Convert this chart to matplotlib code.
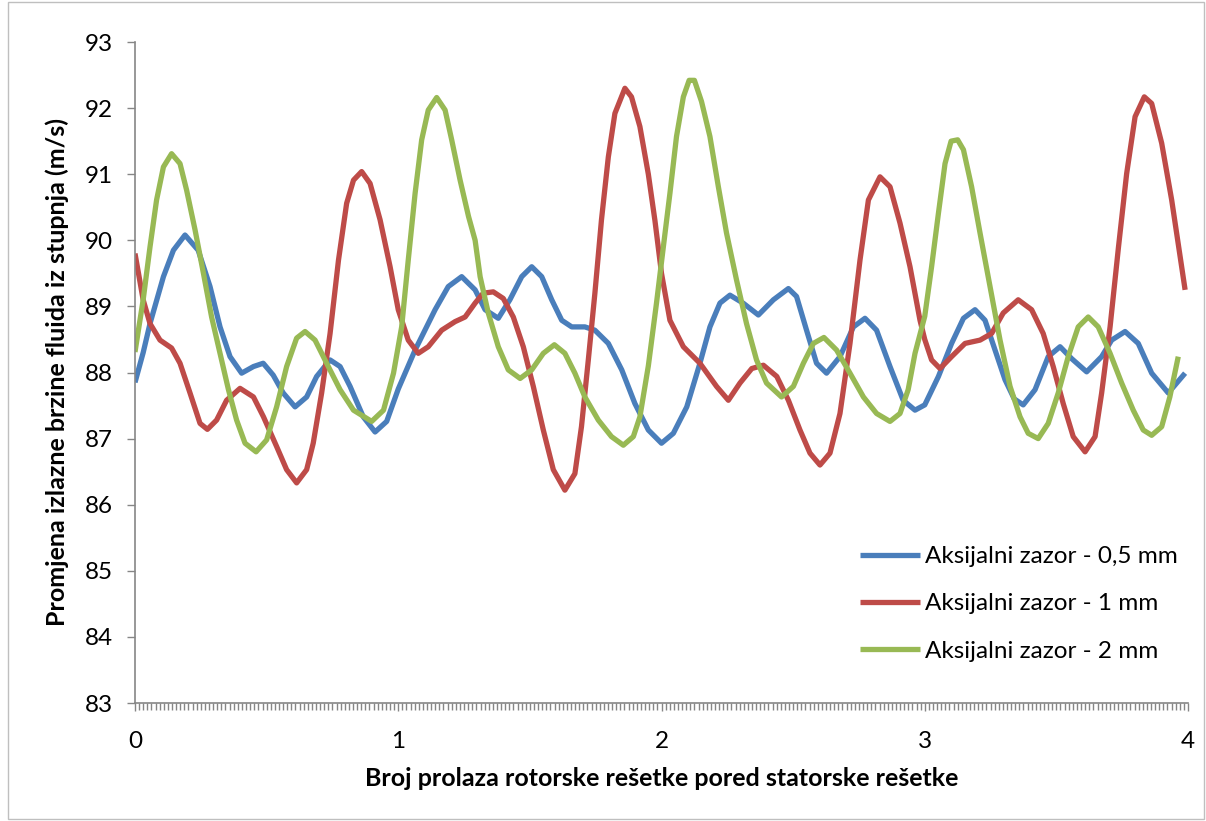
import matplotlib
matplotlib.use("Agg")
import matplotlib.pyplot as plt
from matplotlib.ticker import MultipleLocator

# Aksijalni zazor - 0,5 mm
blue_x = [0.0, 0.031, 0.057, 0.108, 0.146, 0.19, 0.24, 0.285, 0.323, 0.361, 0.405, 0.45, 0.487,
          0.525, 0.563, 0.608, 0.652, 0.69, 0.741, 0.779, 0.817, 0.867, 0.912, 0.956, 1.0, 1.064,
          1.14, 1.19, 1.241, 1.292, 1.33, 1.38, 1.424, 1.469, 1.507, 1.545, 1.583, 1.621, 1.659,
          1.709, 1.747, 1.798, 1.849, 1.899, 1.95, 2.0, 2.045, 2.096, 2.146, 2.184, 2.222, 2.26,
          2.31, 2.368, 2.425, 2.482, 2.513, 2.551, 2.589, 2.627, 2.678, 2.729, 2.773, 2.817, 2.868,
          2.918, 2.963, 3.0, 3.052, 3.102, 3.147, 3.191, 3.229, 3.267, 3.305, 3.34, 3.374, 3.419,
          3.469, 3.514, 3.558, 3.615, 3.672, 3.71, 3.761, 3.811, 3.862, 3.925, 3.989]
blue_y = [87.85, 88.30, 88.74, 89.45, 89.85, 90.08, 89.85, 89.30, 88.69, 88.24, 87.99, 88.09, 88.14,
          87.96, 87.69, 87.48, 87.63, 87.94, 88.19, 88.09, 87.79, 87.33, 87.10, 87.26, 87.75, 88.34,
          88.95, 89.30, 89.45, 89.25, 88.95, 88.82, 89.10, 89.45, 89.60, 89.45, 89.10, 88.79, 88.69,
          88.69, 88.64, 88.44, 88.04, 87.53, 87.13, 86.93, 87.08, 87.48, 88.14, 88.69, 89.05, 89.17,
          89.05, 88.87, 89.10, 89.27, 89.15, 88.64, 88.14, 87.99, 88.24, 88.69, 88.82, 88.64, 88.09,
          87.58, 87.43, 87.51, 87.94, 88.44, 88.82, 88.95, 88.79, 88.34, 87.89, 87.60, 87.51, 87.74,
          88.24, 88.39, 88.21, 88.01, 88.24, 88.49, 88.62, 88.44, 87.99, 87.69, 87.99]

# Aksijalni zazor - 1 mm
red_x = [0.0, 0.031, 0.057, 0.095, 0.139, 0.171, 0.209, 0.247, 0.275, 0.31, 0.348, 0.399, 0.45,
         0.488, 0.538, 0.576, 0.614, 0.652, 0.677, 0.709, 0.741, 0.773, 0.804, 0.83, 0.861, 0.893,
         0.931, 0.969, 1.0, 1.038, 1.076, 1.114, 1.165, 1.216, 1.254, 1.292, 1.323, 1.361, 1.399,
         1.437, 1.475, 1.513, 1.551, 1.589, 1.633, 1.671, 1.696, 1.722, 1.747, 1.772, 1.798, 1.823,
         1.861, 1.886, 1.918, 1.95, 1.975, 2.0, 2.032, 2.083, 2.146, 2.209, 2.254, 2.298, 2.343,
         2.387, 2.438, 2.482, 2.526, 2.564, 2.602, 2.64, 2.678, 2.716, 2.754, 2.786, 2.83, 2.868,
         2.906, 2.944, 2.982, 3.0, 3.026, 3.058, 3.102, 3.153, 3.21, 3.254, 3.298, 3.355, 3.406,
         3.45, 3.488, 3.526, 3.564, 3.609, 3.647, 3.672, 3.704, 3.736, 3.767, 3.799, 3.834, 3.862,
         3.9, 3.938, 3.989]
red_y = [89.80, 89.10, 88.74, 88.49, 88.37, 88.14, 87.69, 87.23, 87.14, 87.28, 87.58, 87.76, 87.63,
         87.33, 86.88, 86.53, 86.33, 86.53, 86.93, 87.69, 88.59, 89.70, 90.56, 90.91, 91.04, 90.86,
         90.31, 89.60, 88.95, 88.49, 88.29, 88.39, 88.64, 88.77, 88.84, 89.05, 89.20, 89.22, 89.12,
         88.84, 88.39, 87.79, 87.13, 86.53, 86.22, 86.47, 87.18, 88.19, 89.20, 90.31, 91.26, 91.92,
         92.30, 92.17, 91.72, 91.00, 90.30, 89.50, 88.79, 88.39, 88.14, 87.79, 87.58, 87.84, 88.06,
         88.11, 87.94, 87.58, 87.13, 86.78, 86.60, 86.78, 87.38, 88.44, 89.70, 90.61, 90.96, 90.81,
         90.26, 89.60, 88.79, 88.50, 88.19, 88.06, 88.24, 88.44, 88.49, 88.59, 88.90, 89.10, 88.95,
         88.59, 88.09, 87.53, 87.03, 86.80, 87.03, 87.69, 88.69, 89.90, 91.01, 91.87, 92.17, 92.07,
         91.47, 90.61, 89.25]

# Aksijalni zazor - 2 mm
green_x = [0.0, 0.031, 0.057, 0.082, 0.108, 0.139, 0.171, 0.196, 0.228, 0.26, 0.291, 0.323, 0.355,
           0.386, 0.418, 0.46, 0.5, 0.538, 0.576, 0.614, 0.646, 0.684, 0.728, 0.779, 0.83, 0.899,
           0.944, 0.982, 1.013, 1.038, 1.064, 1.089, 1.114, 1.146, 1.178, 1.203, 1.235, 1.267, 1.292,
           1.311, 1.342, 1.38, 1.418, 1.463, 1.507, 1.551, 1.593, 1.633, 1.671, 1.709, 1.76, 1.81,
           1.855, 1.893, 1.918, 1.95, 1.981, 2.007, 2.032, 2.057, 2.083, 2.105, 2.125, 2.152, 2.184,
           2.216, 2.247, 2.285, 2.323, 2.361, 2.399, 2.456, 2.501, 2.539, 2.577, 2.617, 2.665, 2.716,
           2.767, 2.817, 2.868, 2.906, 2.937, 2.963, 3.0, 3.026, 3.052, 3.077, 3.1, 3.125, 3.147,
           3.178, 3.21, 3.248, 3.286, 3.324, 3.362, 3.393, 3.431, 3.469, 3.507, 3.545, 3.583, 3.621,
           3.659, 3.704, 3.748, 3.792, 3.83, 3.862, 3.9, 3.931, 3.963]
green_y = [88.31, 89.10, 89.90, 90.61, 91.11, 91.31, 91.16, 90.76, 90.16, 89.50, 88.84, 88.29, 87.74,
           87.28, 86.93, 86.80, 86.98, 87.48, 88.09, 88.52, 88.62, 88.49, 88.14, 87.74, 87.43, 87.26,
           87.43, 87.99, 88.69, 89.70, 90.71, 91.52, 91.97, 92.16, 91.97, 91.52, 90.91, 90.36, 90.00,
           89.45, 88.90, 88.39, 88.04, 87.91, 88.04, 88.29, 88.42, 88.29, 87.99, 87.63, 87.28, 87.03,
           86.90, 87.03, 87.33, 88.10, 89.05, 89.90, 90.71, 91.57, 92.17, 92.42, 92.42, 92.10, 91.57,
           90.81, 90.11, 89.40, 88.74, 88.19, 87.84, 87.63, 87.79, 88.14, 88.44, 88.53, 88.34, 87.99,
           87.63, 87.38, 87.26, 87.38, 87.74, 88.29, 88.85, 89.60, 90.41, 91.16, 91.50, 91.52, 91.37,
           90.81, 90.11, 89.30, 88.49, 87.79, 87.33, 87.08, 87.00, 87.23, 87.69, 88.24, 88.69, 88.84,
           88.69, 88.29, 87.84, 87.43, 87.13, 87.05, 87.18, 87.63, 88.24]

labels = ["Aksijalni zazor - 0,5 mm", "Aksijalni zazor - 1 mm", "Aksijalni zazor - 2 mm"]
colors = ["#4A7EBB", "#BE4B48", "#98B954"]

plt.rcParams["font.family"] = ["Lato", "DejaVu Sans"]

fig = plt.figure(figsize=(12.06, 8.21), dpi=100)
ax = fig.add_axes([135 / 1206, 1 - 703 / 821, (1188 - 135) / 1206, (703 - 42) / 821])

for xs, ys, c, lab in zip([blue_x, red_x, green_x], [blue_y, red_y, green_y], colors, labels):
    ax.plot(xs, ys, color=c, lw=3.8, label=lab, solid_joinstyle="round", solid_capstyle="butt")

ax.set_xlim(0, 4)
ax.set_ylim(83, 93)
ax.xaxis.set_major_locator(MultipleLocator(1))
ax.xaxis.set_minor_locator(MultipleLocator(1 / 64))
ax.yaxis.set_major_locator(MultipleLocator(1))

for side in ["top", "right"]:
    ax.spines[side].set_visible(False)
for side in ["left", "bottom"]:
    ax.spines[side].set_color("#868686")
    ax.spines[side].set_linewidth(1.2)

ax.tick_params(axis="both", which="both", direction="out", color="#868686", width=1.0)
ax.tick_params(axis="y", which="major", length=6, pad=10, labelsize=17.5)
ax.tick_params(axis="x", which="major", length=6, pad=14, labelsize=17.5)
ax.tick_params(axis="x", which="minor", length=5)

ax.set_xlabel("Broj prolaza rotorske rešetke pored statorske rešetke", fontsize=18,
              fontweight="bold", labelpad=11)
ax.set_ylabel("Promjena izlazne brzine fluida iz stupnja (m/s)", fontsize=18,
              fontweight="bold", labelpad=11)

ax.legend(loc="upper left", bbox_to_anchor=(860 / 1206, 1 - 546 / 821),
          bbox_transform=fig.transFigure, frameon=False, fontsize=17.5,
          handlelength=2.45, handletextpad=0.22, labelspacing=1.08,
          borderpad=0, borderaxespad=0)

fig.patches.append(plt.Rectangle((8 / 1206, 2 / 821), 1196 / 1206, 817 / 821,
                                 transform=fig.transFigure, fill=False,
                                 edgecolor="#BFBFBF", lw=1.0))

fig.savefig("out.png", dpi=100)
